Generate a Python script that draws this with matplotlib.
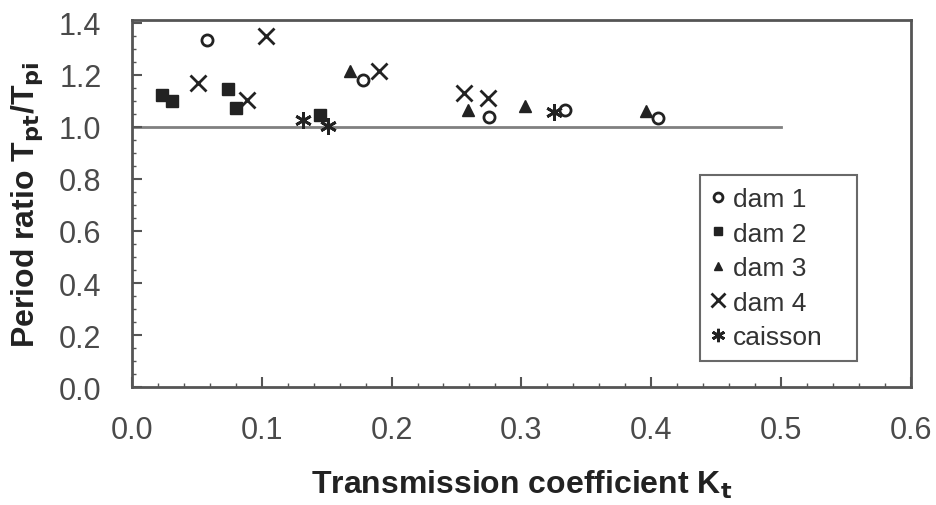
import numpy as np
from matplotlib import pyplot as plt

plt.rcParams['font.family'] = ['Liberation Sans', 'DejaVu Sans']

# Dados (Kt, Tpt/Tpi)
dam1_kt = [0.058, 0.178, 0.275, 0.334, 0.405]
dam1_ratio = [1.333, 1.179, 1.040, 1.064, 1.033]

dam2_kt = [0.023, 0.031, 0.074, 0.080, 0.145]
dam2_ratio = [1.121, 1.098, 1.145, 1.071, 1.044]

dam3_kt = [0.168, 0.259, 0.303, 0.396]
dam3_ratio = [1.214, 1.064, 1.079, 1.060]

dam4_kt = [0.051, 0.103, 0.089, 0.190, 0.256, 0.274]
dam4_ratio = [1.168, 1.349, 1.102, 1.214, 1.129, 1.110]

caisson_kt = [0.132, 0.151, 0.325]
caisson_ratio = [1.025, 1.002, 1.056]

ref_kt = [0.0, 0.5]
ref_ratio = [1.0, 1.0]

fig = plt.figure(figsize=(9.36, 5.06), dpi=100)
ax = fig.add_axes([0.141, 0.233, 0.832, 0.725])

ax.plot(ref_kt, ref_ratio, color='#808080', lw=2, zorder=1)

ax.plot(dam1_kt, dam1_ratio, 'o', mfc='white', mec='#222222', mew=2, ms=8, ls='none', label='dam 1')
ax.plot(dam2_kt, dam2_ratio, 's', color='#222222', ms=8, ls='none', label='dam 2')
ax.plot(dam3_kt, dam3_ratio, '^', color='#222222', ms=8, ls='none', label='dam 3')
ax.plot(dam4_kt, dam4_ratio, 'x', color='#222222', mew=2, ms=12, ls='none', label='dam 4')
ax.plot(caisson_kt, caisson_ratio, marker=(6, 2, 0), color='#222222', mew=2, ms=12, ls='none', label='caisson')

ax.set_xlim(0, 0.6)
ax.set_ylim(0, 1.41)
ax.set_xticks(np.arange(0, 0.61, 0.1))
ax.set_yticks(np.arange(0, 1.41, 0.2))
ax.set_xticks(np.arange(0, 0.61, 0.02), minor=True)
ax.set_yticks(np.arange(0, 1.41, 0.05), minor=True)
ax.xaxis.set_major_formatter(plt.FormatStrFormatter('%.1f'))
ax.yaxis.set_major_formatter(plt.FormatStrFormatter('%.1f'))
ax.tick_params(which='both', direction='in', colors='#555555', labelcolor='#4a4a4a', labelsize=22)
ax.tick_params(which='major', length=7, width=1.5)
ax.tick_params(which='minor', length=3, width=1)
ax.tick_params(axis='x', pad=20)
ax.tick_params(axis='y', pad=22)

for s in ax.spines.values():
    s.set_color('#555555')
    s.set_linewidth(2)

ax.set_xlabel(r'Transmission coefficient K$_\mathbf{t}$', fontsize=23, fontweight='bold', color='#222222', labelpad=16)
ax.set_ylabel(r'Period ratio T$_\mathbf{pt}$/T$_\mathbf{pi}$', fontsize=23, fontweight='bold', color='#222222', labelpad=10)

leg = ax.legend(loc='lower left', bbox_to_anchor=(0.729, 0.071, 0.202, 0.523), mode='expand',
                fontsize=19, frameon=True, fancybox=False, handlelength=0.5, handletextpad=0.3,
                borderaxespad=0, labelspacing=0.4, borderpad=0.45, markerscale=0.8)
leg.get_frame().set_edgecolor('#444444')
leg.get_frame().set_linewidth(1.5)
for t in leg.get_texts():
    t.set_color('#333333')

plt.savefig('out.png', dpi=100)
